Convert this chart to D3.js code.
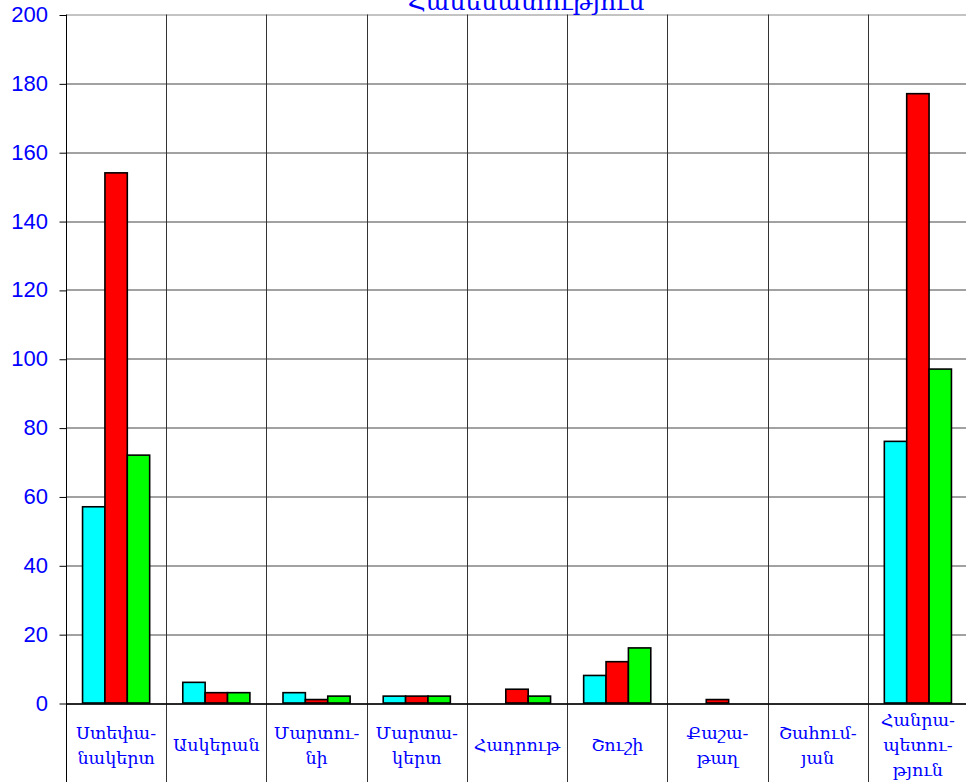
<!DOCTYPE html>
<html>
<head>
<meta charset="utf-8">
<script src="https://cdn.jsdelivr.net/npm/d3@7"></script>
<style>
  body { margin: 0; background: #fff; overflow: hidden; }
  svg { display: block; }
</style>
</head>
<body>
<div id="chart"></div>
<script>
// Chart data
let categories = ["Ստեփանակերտ", "Ասկերան", "Մարտունի", "Մարտակերտ", "Հադրութ", "Շուշի", "Քաշաթաղ", "Շահումյան", "Հանրապետություն"];
let categoryLabels = [
    ["Ստեփա-", "նակերտ"],
    ["Ասկերան"],
    ["Մարտու-", "նի"],
    ["Մարտա-", "կերտ"],
    ["Հադրութ"],
    ["Շուշի"],
    ["Քաշա-", "թաղ"],
    ["Շահում-", "յան"],
    ["Հանրա-", "պետու-", "թյուն"]
];
let seriesNames = ["s1", "s2", "s3"];
let seriesColors = ["#00ffff", "#ff0000", "#00ff00"];
let series1 = [57, 6, 3, 2, 0, 8, 0, 0, 76];
let series2 = [154, 3, 1, 2, 4, 12, 1, 0, 177];
let series3 = [72, 3, 2, 2, 2, 16, 0, 0, 97];
let yTicks = [0, 20, 40, 60, 80, 100, 120, 140, 160, 180, 200];
let titleText = "Համեմատություն";

let svgWidth = 966;
let svgHeight = 782;

let margin = { top: 14.5, right: -2, bottom: 79, left: 66 };
let width = svgWidth - margin.left - margin.right;
let height = svgHeight - margin.top - margin.bottom;

let svg = d3.select("#chart")
    .append("svg")
    .attr("width", svgWidth)
    .attr("height", svgHeight);

let chartGroup = svg.append("g")
    .attr("transform", `translate(${margin.left}, ${margin.top})`);

// Scales
let xScale = d3.scaleBand()
    .domain(categories)
    .range([0, width])
    .padding(0);

let xInner = d3.scaleBand()
    .domain(seriesNames)
    .range([0, xScale.bandwidth()])
    .paddingInner(0)
    .paddingOuter(0.74);

let yScale = d3.scaleLinear()
    .domain([0, 200])
    .range([height, 0]);

// Title (partly off the top edge, as in the original)
svg.append("text")
    .attr("x", 526)
    .attr("y", 10)
    .attr("text-anchor", "middle")
    .attr("fill", "#0000ff")
    .style("font-family", "'DejaVu Serif', serif")
    .style("font-size", "25px")
    .text(titleText);

// Horizontal gridlines
chartGroup.append("g")
    .selectAll("line")
    .data(yTicks)
    .join("line")
    .attr("x1", 0)
    .attr("x2", width)
    .attr("y1", d => Math.round(yScale(d)) + 0.5)
    .attr("y2", d => Math.round(yScale(d)) + 0.5)
    .attr("stroke", d => d === 200 ? "#888" : "#444")
    .attr("stroke-width", 1);

// Vertical category separators, running down through the label area
let bounds = categories.map(c => xScale(c)).concat([width]);
chartGroup.append("g")
    .selectAll("line")
    .data(bounds)
    .join("line")
    .attr("x1", d => Math.round(d) + 0.5)
    .attr("x2", d => Math.round(d) + 0.5)
    .attr("y1", 0)
    .attr("y2", svgHeight)
    .attr("stroke", (d, i) => i === 0 ? "#000" : "#333")
    .attr("stroke-width", 1);

// Y axis
let leftAxis = d3.axisLeft(yScale)
    .tickValues(yTicks)
    .tickSize(7)
    .tickPadding(11)
    .tickFormat(d3.format("d"));

let yAxis = chartGroup.append("g")
    .call(leftAxis);
yAxis.select(".domain").remove();
yAxis.selectAll(".tick line")
    .attr("stroke", "#000")
    .attr("transform", "translate(0.5, 0.5)");
yAxis.selectAll(".tick text")
    .attr("fill", "#0000ff")
    .style("font-family", "'Liberation Sans', Arial, sans-serif")
    .style("font-size", "22px");

// Bars
let barData = categories.map((c, i) => ({
    category: c,
    values: [series1[i], series2[i], series3[i]]
}));

let groups = chartGroup.append("g")
    .selectAll("g")
    .data(barData)
    .join("g")
    .attr("transform", d => `translate(${xScale(d.category)}, 0)`);

groups.selectAll("rect")
    .data(d => d.values.map((v, j) => ({ key: seriesNames[j], value: v, color: seriesColors[j] })))
    .join("rect")
    .filter(d => d.value > 0)
    .attr("x", d => xInner(d.key))
    .attr("y", d => yScale(d.value))
    .attr("width", xInner.bandwidth())
    .attr("height", d => height - yScale(d.value))
    .attr("fill", d => d.color)
    .attr("stroke", "#000")
    .attr("stroke-width", 1.6);

// X axis line
chartGroup.append("line")
    .attr("x1", 0)
    .attr("x2", width)
    .attr("y1", Math.round(height) + 0.5)
    .attr("y2", Math.round(height) + 0.5)
    .attr("stroke", "#000")
    .attr("stroke-width", 1.5);

// Category labels
let lineGap = 25;
let labelCenter = height + 42;
let labelGroups = chartGroup.append("g")
    .selectAll("text")
    .data(categories)
    .join("text")
    .attr("text-anchor", "middle")
    .attr("fill", "#0000ff")
    .style("font-family", "'DejaVu Serif', serif")
    .style("font-size", "17.5px");

labelGroups.each(function(c, i) {
    let lines = categoryLabels[i];
    let cx = xScale(c) + xScale.bandwidth() / 2;
    let startY = labelCenter - (lines.length - 1) * lineGap / 2;
    d3.select(this).selectAll("tspan")
        .data(lines)
        .join("tspan")
        .attr("x", cx)
        .attr("y", (d, k) => startY + k * lineGap)
        .attr("dy", "0.35em")
        .text(d => d);
});
</script>
</body>
</html>
